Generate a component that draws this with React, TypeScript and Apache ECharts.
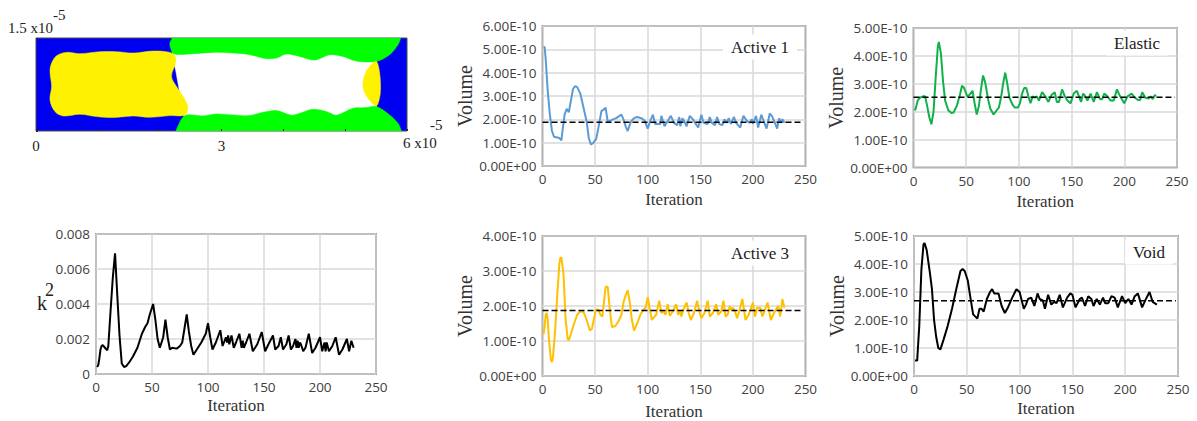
import React, { useEffect, useRef } from "react";
import * as echarts from "echarts";

// Iteration values and volumes (units of 1e-10)
const active1: number[][] = [[1,5.1],[2,5.1],[3,4.6],[5,3.2],[7,2.2],[9,1.5],[11,1.25],[14,1.22],[16,1.2],[18,1.1],[19,1.5],[21,2.2],[23,2.45],[25,2.3],[27,2.8],[29,3.3],[31,3.42],[33,3.38],[36,3.1],[39,2.5],[42,1.9],[44,1.2],[46,0.92],[48,0.98],[51,1.15],[53,1.6],[56,2.35],[59,2.45],[60,2.5],[62,1.9],[65,1.95],[67,2.0],[70,2.05],[75,2.2],[77,2.0],[79,1.7],[81,1.5],[84,1.9],[87,2.05],[90,2.1],[94,2.05],[97,1.95],[100,1.6],[103,2.0],[105,2.2],[107,1.8],[112,1.8],[113,2.15],[116,1.7],[118,1.85],[122,2.15],[125,1.85],[128,1.75],[130,2.1],[131,1.7],[133,2.05],[135,1.9],[137,1.7],[140,2.15],[143,2.0],[145,1.85],[148,1.65],[151,2.2],[153,1.85],[157,1.8],[159,2.1],[161,1.85],[164,1.75],[166,2.1],[168,1.8],[171,1.75],[173,2.0],[175,1.85],[177,2.05],[179,1.8],[182,2.1],[184,1.85],[188,1.65],[191,2.15],[194,1.95],[197,1.85],[199,2.0],[200,1.8],[203,2.15],[205,1.65],[208,2.2],[210,1.95],[213,1.6],[216,2.25],[218,2.15],[221,1.85],[223,1.6],[225,2.05],[226,1.85],[228,2.0],[230,1.85]];
const elastic: number[][] = [[1,2.05],[2,2.1],[4,2.4],[6,2.5],[9,2.55],[11,2.55],[13,2.2],[15,1.8],[17,1.55],[19,2.0],[21,3.2],[23,4.3],[24,4.5],[26,4.1],[28,3.1],[30,2.4],[33,2.05],[36,1.95],[38,1.97],[41,2.2],[44,2.6],[46,2.93],[48,2.85],[51,2.55],[53,2.6],[56,2.75],[58,2.3],[60,1.9],[62,2.2],[64,2.8],[66,3.3],[68,3.05],[71,2.4],[73,2.1],[76,1.9],[78,2.0],[81,2.15],[83,2.5],[85,3.0],[87,3.4],[89,3.0],[91,2.5],[94,2.25],[96,2.15],[99,2.15],[101,2.3],[103,2.65],[105,2.85],[107,2.85],[109,2.55],[111,2.3],[113,2.55],[115,2.5],[117,2.55],[119,2.4],[122,2.7],[125,2.55],[128,2.35],[131,2.6],[134,2.7],[136,2.35],[138,2.35],[141,2.8],[143,2.6],[146,2.4],[149,2.3],[152,2.65],[155,2.75],[159,2.35],[161,2.65],[163,2.55],[165,2.4],[168,2.65],[171,2.35],[174,2.7],[177,2.45],[179,2.45],[181,2.65],[184,2.55],[187,2.4],[190,2.4],[193,2.8],[196,2.55],[200,2.3],[203,2.55],[207,2.65],[210,2.5],[213,2.42],[215,2.42],[217,2.7],[220,2.5],[223,2.47],[225,2.55],[227,2.45],[229,2.6],[230,2.55]];
const kSquared: number[][] = [[1,0.0004],[2,0.0005],[3,0.0009],[4,0.0014],[5,0.0016],[6,0.00165],[8,0.0015],[10,0.00135],[11,0.0016],[13,0.0036],[15,0.0055],[17,0.0069],[19,0.0045],[21,0.0022],[23,0.0006],[25,0.0004],[27,0.00045],[30,0.0007],[33,0.001],[37,0.0015],[41,0.0023],[44,0.0027],[46,0.0029],[48,0.0034],[51,0.004],[53,0.0031],[55,0.002],[57,0.0015],[60,0.0021],[62,0.0031],[64,0.0021],[66,0.0014],[68,0.0015],[72,0.00145],[75,0.0016],[77,0.0018],[79,0.0026],[81,0.0034],[83,0.0024],[85,0.0016],[87,0.0011],[90,0.0014],[94,0.0018],[98,0.0023],[100,0.0029],[102,0.0021],[104,0.0014],[107,0.0018],[111,0.0025],[113,0.0016],[116,0.0021],[117,0.0018],[118,0.0022],[119,0.0017],[121,0.0022],[123,0.0015],[125,0.0018],[128,0.0023],[130,0.0015],[131,0.0019],[132,0.0015],[134,0.0018],[137,0.0023],[140,0.0013],[144,0.0017],[148,0.0024],[151,0.0013],[154,0.0017],[158,0.0022],[160,0.0014],[163,0.0016],[165,0.0021],[167,0.0014],[170,0.0017],[172,0.0022],[174,0.0014],[176,0.0016],[178,0.002],[179,0.0015],[180,0.0019],[181,0.0015],[182,0.0018],[183,0.0017],[185,0.0013],[187,0.0015],[190,0.0023],[193,0.0012],[196,0.0015],[200,0.0021],[202,0.0013],[204,0.0018],[205,0.0013],[206,0.0018],[208,0.0013],[211,0.0016],[214,0.0021],[217,0.0011],[220,0.0014],[224,0.002],[226,0.0013],[228,0.0019],[230,0.0015]];
const active3: number[][] = [[1,1.2],[2,1.4],[3,1.75],[4,1.8],[5,1.6],[6,1.1],[8,0.45],[9,0.4],[10,0.55],[12,1.3],[14,2.3],[16,3.2],[17,3.38],[18,3.38],[20,2.9],[22,1.6],[24,1.05],[25,1.02],[27,1.2],[30,1.5],[33,1.75],[36,1.85],[39,1.83],[42,1.6],[45,1.3],[47,1.35],[49,1.65],[51,1.9],[53,1.9],[55,1.75],[57,1.7],[58,2.0],[60,2.55],[62,2.55],[64,1.9],[66,1.4],[69,1.42],[72,1.55],[75,1.75],[77,2.1],[79,2.3],[81,2.45],[83,2.1],[85,1.6],[87,1.3],[90,1.5],[93,1.75],[96,1.9],[98,1.95],[100,2.25],[102,1.9],[104,1.6],[106,1.68],[108,1.75],[111,2.15],[113,1.8],[115,1.85],[117,1.75],[119,2.05],[121,1.72],[124,1.85],[127,2.05],[129,1.75],[131,1.85],[132,1.7],[134,1.9],[137,2.1],[139,1.8],[141,1.6],[144,1.8],[147,2.15],[149,1.85],[151,1.65],[154,1.8],[157,2.15],[159,1.7],[162,1.8],[165,2.05],[167,1.75],[170,1.85],[172,2.15],[174,1.7],[176,1.75],[178,2.0],[179,1.9],[181,1.95],[183,1.85],[185,1.65],[187,1.85],[190,2.2],[193,1.6],[196,1.75],[200,2.1],[202,1.7],[204,1.95],[207,1.95],[209,1.7],[211,1.85],[214,2.1],[217,1.6],[220,1.8],[224,2.0],[226,1.7],[228,2.2],[230,1.95]];
const voidVolume: number[][] = [[1,0.55],[3,0.55],[5,1.8],[7,3.8],[9,4.7],[10,4.75],[12,4.5],[15,3.7],[17,3.1],[19,2.0],[21,1.4],[23,1.0],[25,0.95],[28,1.3],[32,1.8],[36,2.4],[40,3.1],[44,3.75],[46,3.82],[48,3.75],[51,3.4],[53,2.9],[56,2.2],[60,2.05],[62,2.4],[64,2.4],[66,2.3],[69,2.75],[72,3.0],[74,3.1],[76,2.95],[80,2.95],[83,2.5],[86,2.25],[89,2.45],[93,2.8],[97,3.1],[100,3.0],[102,2.7],[104,2.4],[106,2.55],[108,2.75],[111,2.8],[114,2.5],[117,2.95],[119,2.75],[122,2.7],[124,2.4],[127,2.9],[130,2.55],[133,2.65],[135,2.6],[138,2.9],[141,2.45],[145,2.8],[148,2.95],[150,2.9],[153,2.45],[157,2.75],[159,2.8],[162,2.5],[165,2.85],[168,2.75],[170,2.5],[173,2.75],[176,2.55],[179,2.8],[181,2.6],[184,2.6],[187,2.85],[190,2.8],[193,2.45],[197,2.85],[200,2.6],[203,2.75],[206,2.55],[209,2.85],[212,2.95],[216,2.45],[219,2.7],[223,3.0],[226,2.65],[230,2.55]];

const meanActive1 = 1.87;
const meanElastic = 2.52;
const meanActive3 = 1.87;
const meanVoid = 2.69;

// Phase-field regions in units of 1e-5
const yellowMain: number[][] = [[0.226,0.961],[0.253,1.095],[0.334,1.214],[0.495,1.268],[0.711,1.247],[1.034,1.279],[1.303,1.279],[1.572,1.257],[1.896,1.29],[2.165,1.268],[2.246,1.214],[2.256,1.095],[2.192,0.88],[2.272,0.718],[2.38,0.556],[2.456,0.383],[2.407,0.259],[2.165,0.248],[1.842,0.221],[1.572,0.243],[1.249,0.216],[0.98,0.232],[0.711,0.27],[0.442,0.243],[0.307,0.313],[0.226,0.502],[0.253,0.718]];
const yellowEnd: number[][] = [[5.504,1.122],[5.558,0.934],[5.568,0.61],[5.504,0.405],[5.369,0.529],[5.288,0.707],[5.315,0.907],[5.396,1.042]];
const greenTop: number[][] = [[2.24,1.75],[2.203,1.5],[2.165,1.419],[2.176,1.338],[2.235,1.241],[2.542,1.247],[2.865,1.268],[3.188,1.257],[3.457,1.23],[3.726,1.166],[3.888,1.176],[4.05,1.241],[4.265,1.203],[4.507,1.144],[4.75,1.23],[4.965,1.203],[5.18,1.128],[5.504,1.122],[5.719,1.23],[5.854,1.392],[5.897,1.5],[5.92,1.75]];
const greenBottom: number[][] = [[2.15,-0.25],[2.262,0],[2.407,0.248],[2.703,0.243],[2.919,0.275],[3.188,0.259],[3.457,0.248],[3.673,0.302],[3.888,0.329],[4.13,0.254],[4.265,0.286],[4.48,0.351],[4.696,0.313],[4.857,0.254],[5.127,0.367],[5.342,0.378],[5.504,0.394],[5.719,0.259],[5.854,0.124],[5.907,0],[5.93,-0.25]];
const whiteCore: number[][] = [[2.2,1.3],[5.504,1.3],[5.504,0.2],[2.4,0.2]];

const SERIF = "'Liberation Serif', serif";
const SANS = "'Open Sans', sans-serif";
const GRID_COLOR = "#d9d9d9";
const BORDER = "#4d4d4d";
const volumeLabel = (v: number) => (v === 0 ? "0.00E+00" : `${v.toFixed(2)}E-10`);

const panels = [
  { id: "Active 1", rect: [542.5, 26, 263, 140], max: 6, step: 1, data: active1, mean: meanActive1, color: "#5b9bd5", label: [760, 47], gap: 25 },
  { id: "Elastic", rect: [913.5, 28, 263.5, 139.5], max: 5, step: 1, data: elastic, mean: meanElastic, color: "#10b04a", label: [1137, 43], gap: 25 },
  { id: "k2", rect: [96, 234, 280, 140], max: 0.008, step: 0.002, data: kSquared, mean: null, color: "#000000", label: null, gap: 23 },
  { id: "Active 3", rect: [542.5, 236, 263, 140], max: 4, step: 1, data: active3, mean: meanActive3, color: "#ffc000", label: [760, 253], gap: 27 },
  { id: "Void", rect: [914, 236, 264, 140], max: 5, step: 1, data: voidVolume, mean: meanVoid, color: "#000000", label: [1149, 252], gap: 24 },
];

const regions = [
  { pts: whiteCore, color: "#ffffff", smooth: 0 },
  { pts: greenTop, color: "#00ff00", smooth: 0.3 },
  { pts: greenBottom, color: "#00ff00", smooth: 0.3 },
  { pts: yellowMain, color: "#fff200", smooth: 0.35 },
  { pts: yellowEnd, color: "#fff200", smooth: 0.3 },
];

export default function App() {
  const ref = useRef<HTMLDivElement>(null);
  useEffect(() => {
    const chart = echarts.init(ref.current!, undefined, { renderer: "svg" });
    const grids: any[] = [];
    const xAxes: any[] = [];
    const yAxes: any[] = [];
    const series: any[] = [];
    const graphics: any[] = [];

    panels.forEach((p, i) => {
      const isK = p.id === "k2";
      grids.push({ left: p.rect[0], top: p.rect[1], width: p.rect[2], height: p.rect[3], show: true, borderColor: BORDER, borderWidth: 1.5, backgroundColor: "#fff" });
      xAxes.push({
        type: "value", gridIndex: i, min: 0, max: 250, interval: 50,
        name: "Iteration", nameLocation: "middle", nameGap: p.gap,
        nameTextStyle: { fontFamily: SERIF, fontSize: 17, color: "#333" },
        axisLine: { show: false }, axisTick: { show: false },
        splitLine: { show: true, lineStyle: { color: GRID_COLOR, width: 1.5 } },
        axisLabel: { fontFamily: SANS, fontSize: 13.5, color: "#404040", margin: 6 },
      });
      yAxes.push({
        type: "value", gridIndex: i, min: 0, max: p.max, interval: p.step,
        name: isK ? "" : "Volume", nameLocation: "middle", nameGap: 64,
        nameTextStyle: { fontFamily: SERIF, fontSize: 20, color: "#333" },
        axisLine: { show: false }, axisTick: { show: false },
        splitLine: { show: true, lineStyle: { color: GRID_COLOR, width: 1.5 } },
        axisLabel: { fontFamily: SANS, fontSize: 13.5, color: "#404040", margin: 6, formatter: isK ? (v: number) => (v === 0 ? "0" : v.toFixed(3)) : volumeLabel },
      });
      series.push({
        type: "line", xAxisIndex: i, yAxisIndex: i, data: p.data, showSymbol: false, symbol: "none",
        lineStyle: { color: p.color, width: 2 }, z: 3,
      });
      if (p.mean !== null) {
        series.push({
          type: "line", xAxisIndex: i, yAxisIndex: i, data: [[0, p.mean], [248, p.mean]], showSymbol: false, symbol: "none",
          lineStyle: { color: "#000", width: 1.5, type: [6, 3] }, z: 4,
        });
      }
      if (p.label) {
        graphics.push({
          type: "text", x: p.label[0], y: p.label[1], z: 2,
          style: { text: p.id, font: `17px ${SERIF}`, fill: "#222", textAlign: "center", textVerticalAlign: "middle", backgroundColor: "#fff", padding: [4, 8] },
        });
      }
    });

    // Phase-field map
    const m = panels.length;
    grids.push({ left: 36, top: 38, width: 371, height: 93, show: true, borderColor: BORDER, borderWidth: 1, backgroundColor: "#0000f0" });
    xAxes.push({
      type: "value", gridIndex: m, min: 0, max: 6, interval: 1, z: 6,
      axisLine: { show: false }, splitLine: { show: false },
      axisTick: { show: true, inside: true, length: 2, lineStyle: { color: "#222" } },
      axisLabel: { fontFamily: SERIF, fontSize: 15, color: "#222", margin: 7, formatter: (v: number) => (v === 0 || v === 3 ? String(v) : "") },
    });
    yAxes.push({
      type: "value", gridIndex: m, min: 0, max: 1.5, interval: 0.5, z: 6,
      axisLine: { show: false }, splitLine: { show: false },
      axisTick: { show: true, inside: true, length: 2, lineStyle: { color: "#222" } },
      axisLabel: { show: false },
    });
    regions.forEach((r) => {
      series.push({
        type: "custom", xAxisIndex: m, yAxisIndex: m, data: r.pts, silent: true, z: 2, clip: true,
        renderItem: (params: any, api: any) => {
          if (params.dataIndex !== 0) return null;
          return { type: "polygon", shape: { points: r.pts.map((q) => api.coord(q)), smooth: r.smooth }, style: { fill: r.color, stroke: r.color, lineWidth: 0.5 } };
        },
      });
    });

    const txt = (text: string, x: number, y: number, size: number, align = "left") => ({
      type: "text", x, y, z: 10,
      style: { text, font: `${size}px ${SERIF}`, fill: "#222", textAlign: align, textVerticalAlign: "middle" },
    });
    graphics.push(
      txt("1.5 x10", 8, 28, 15),
      txt("-5", 53, 15, 15),
      txt("6 x10", 403, 143, 15),
      txt("-5", 430, 125, 15),
      txt("k", 37, 303, 20),
      txt("2", 45, 290, 18),
    );

    chart.setOption({
      animation: false,
      grid: grids, xAxis: xAxes, yAxis: yAxes, series,
      graphic: { elements: graphics },
    });
    return () => chart.dispose();
  }, []);
  return <div ref={ref} style={{ position: "absolute", left: 0, top: 0, width: 1197, height: 421, background: "#fff" }} />;
}
